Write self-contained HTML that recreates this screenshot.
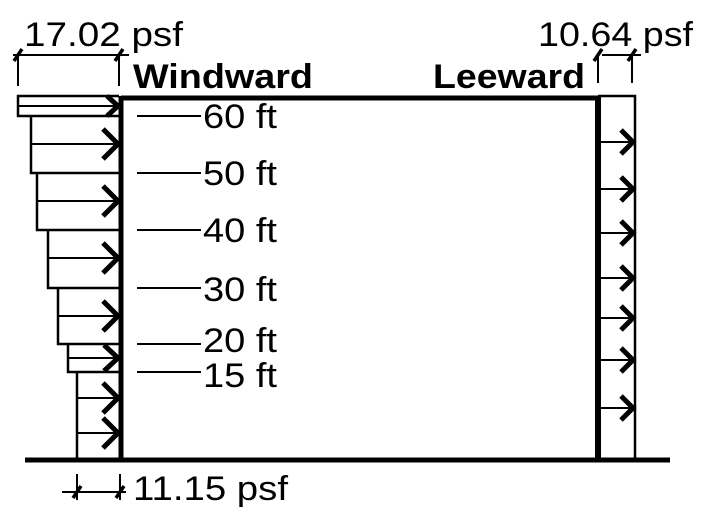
<!DOCTYPE html>
<html><head><meta charset="utf-8"><style>
html,body{margin:0;padding:0;background:#fff;}
svg{display:block;}
text{font-family:"Liberation Sans",Arial,sans-serif;fill:#000;}
</style></head><body>
<svg width="703" height="522" viewBox="0 0 703 522" xmlns="http://www.w3.org/2000/svg">
<g stroke="#000" fill="none" stroke-linecap="butt">
<line x1="121" y1="98" x2="600" y2="98" stroke-width="5"/>
<line x1="121" y1="96" x2="121" y2="460" stroke-width="5"/>
<line x1="598" y1="96" x2="598" y2="460" stroke-width="6"/>
<line x1="25" y1="460" x2="670" y2="460" stroke-width="5"/>
<g stroke-width="2.5">
<polyline points="119,96 18,96 18,116 119,116"/>
<polyline points="31,116 31,173 119,173"/>
<polyline points="37,173 37,230 119,230"/>
<polyline points="48,230 48,288 119,288"/>
<polyline points="58,288 58,344 119,344"/>
<polyline points="68,344 68,372 119,372"/>
<polyline points="77,372 77,460"/>
</g>
<g stroke-width="2">
<line x1="18" y1="106" x2="118" y2="106"/>
<line x1="31" y1="144" x2="118" y2="144"/>
<line x1="37" y1="201" x2="118" y2="201"/>
<line x1="48" y1="258" x2="118" y2="258"/>
<line x1="58" y1="316" x2="118" y2="316"/>
<line x1="68" y1="358" x2="118" y2="358"/>
<line x1="77" y1="398" x2="118" y2="398"/>
<line x1="77" y1="433" x2="118" y2="433"/>
</g>
<g stroke-width="5">
<polyline points="107,96 118,106 107,116"/>
<polyline points="103,129 118,144 103,159"/>
<polyline points="103,186 118,201 103,216"/>
<polyline points="103,243 118,258 103,273"/>
<polyline points="103,301 118,316 103,331"/>
<polyline points="104,345 118,358 104,371"/>
<polyline points="103,383 118,398 103,413"/>
<polyline points="103,418 118,433 103,448"/>
</g>
<polyline points="598,96 635,96 635,460" stroke-width="2.5"/>
<g stroke-width="2">
<line x1="600" y1="142" x2="633" y2="142"/>
<line x1="600" y1="189" x2="633" y2="189"/>
<line x1="600" y1="233" x2="633" y2="233"/>
<line x1="600" y1="278" x2="633" y2="278"/>
<line x1="600" y1="318" x2="633" y2="318"/>
<line x1="600" y1="360" x2="633" y2="360"/>
<line x1="600" y1="408" x2="633" y2="408"/>
</g>
<g stroke-width="5">
<polyline points="621,130 633,142 621,154"/>
<polyline points="621,177 633,189 621,201"/>
<polyline points="621,221 633,233 621,245"/>
<polyline points="621,266 633,278 621,290"/>
<polyline points="621,306 633,318 621,330"/>
<polyline points="621,348 633,360 621,372"/>
<polyline points="621,396 633,408 621,420"/>
</g>
<g stroke-width="2">
<line x1="137" y1="116" x2="201" y2="116"/>
<line x1="137" y1="173" x2="201" y2="173"/>
<line x1="137" y1="230" x2="201" y2="230"/>
<line x1="137" y1="288" x2="201" y2="288"/>
<line x1="137" y1="344" x2="201" y2="344"/>
<line x1="137" y1="372" x2="201" y2="372"/>
</g>
<g stroke-width="2">
<line x1="13" y1="55" x2="129" y2="55"/>
<line x1="18" y1="55" x2="18" y2="86"/>
<line x1="119" y1="55" x2="119" y2="86"/>
<line x1="602" y1="55" x2="641" y2="55"/>
<line x1="598" y1="55" x2="598" y2="83"/>
<line x1="632" y1="55" x2="632" y2="83"/>
<line x1="62" y1="492" x2="126" y2="492"/>
<line x1="77" y1="474" x2="77" y2="500"/>
<line x1="120" y1="474" x2="120" y2="500"/>
</g>
<g stroke-width="3.5">
<line x1="14" y1="61" x2="22" y2="49"/>
<line x1="115" y1="61" x2="123" y2="49"/>
<line x1="594" y1="61" x2="602" y2="49"/>
<line x1="628" y1="61" x2="636" y2="49"/>
<line x1="73" y1="498" x2="81" y2="486"/>
<line x1="116" y1="498" x2="124" y2="486"/>
</g>
</g>
<text x="24" y="46" font-size="34" textLength="159" lengthAdjust="spacingAndGlyphs">17.02 psf</text>
<text x="538" y="46" font-size="34" textLength="155" lengthAdjust="spacingAndGlyphs">10.64 psf</text>
<text x="133" y="500" font-size="34" textLength="155" lengthAdjust="spacingAndGlyphs">11.15 psf</text>
<text x="133" y="88" font-size="34" font-weight="bold" textLength="180" lengthAdjust="spacingAndGlyphs">Windward</text>
<text x="433" y="88" font-size="34" font-weight="bold" textLength="152" lengthAdjust="spacingAndGlyphs">Leeward</text>
<g font-size="34">
<text x="203" y="128" textLength="74" lengthAdjust="spacingAndGlyphs">60 ft</text>
<text x="203" y="185" textLength="74" lengthAdjust="spacingAndGlyphs">50 ft</text>
<text x="203" y="242" textLength="74" lengthAdjust="spacingAndGlyphs">40 ft</text>
<text x="203" y="301" textLength="74" lengthAdjust="spacingAndGlyphs">30 ft</text>
<text x="203" y="352" textLength="74" lengthAdjust="spacingAndGlyphs">20 ft</text>
<text x="203" y="387" textLength="74" lengthAdjust="spacingAndGlyphs">15 ft</text>
</g>
</svg>
</body></html>
